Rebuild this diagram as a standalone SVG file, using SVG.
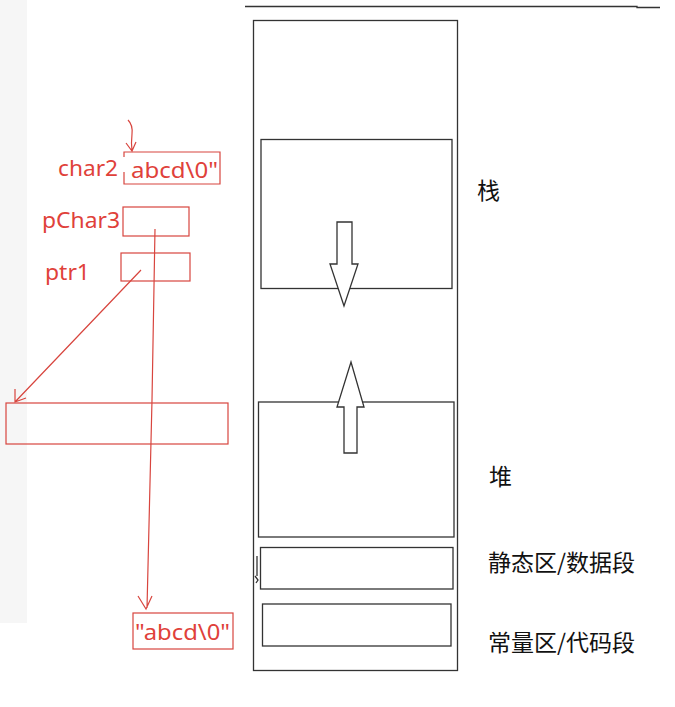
<svg xmlns="http://www.w3.org/2000/svg" width="675" height="707" viewBox="0 0 675 707">
<style>
.blk{fill:none;stroke:#333;stroke-width:1.3}
.red{fill:none;stroke:#d8453e;stroke-width:1.2}
.rt{font-family:"Noto Sans","Noto Sans CJK SC",sans-serif;font-size:22.5px;fill:#e0413a}
.bt{font-family:"Noto Sans CJK SC","Noto Sans",sans-serif;font-size:23px;fill:#111}
</style>
<rect width="675" height="707" fill="#fff"/>
<rect x="0" y="0" width="27" height="623" fill="#f6f6f6"/>
<g id="memory">
<path class="blk" d="M245 6.5H637V7.5H660"/>
<rect class="blk" x="253.5" y="20.5" width="204" height="650"/>
</g>
<g id="stack">
<rect class="blk" x="261" y="139.5" width="191" height="149"/>
<path class="blk" style="fill:#fff" d="M337 222H352V264H358L344 306L330 264H337Z"/>
<text class="bt" x="477" y="199">栈</text>
</g>
<g id="heap">
<rect class="blk" x="258.5" y="402" width="195.5" height="135"/>
<path class="blk" style="fill:#fff" d="M344 453V407H337L351 362L364 407H357V453Z"/>
<text class="bt" x="489" y="485">堆</text>
</g>
<g id="static">
<rect class="blk" x="260.5" y="547.5" width="192.5" height="41.5"/>
<path class="blk" d="M257 556V576M255 576L258 580L256 583" stroke-width="1"/>
<text class="bt" x="488" y="571">静态区/数据段</text>
</g>
<g id="const">
<rect class="blk" x="262.5" y="604" width="188.5" height="42"/>
<text class="bt" x="488" y="651">常量区/代码段</text>
</g>
<g id="char2">
<text class="rt" x="58" y="176" textLength="60" lengthAdjust="spacingAndGlyphs">char2</text>
<path class="red" d="M124 157V152H220V184H124V172"/>
<text class="rt" x="131" y="178" textLength="87" lengthAdjust="spacingAndGlyphs">abcd\0"</text>
</g>
<g id="pChar3">
<text class="rt" x="42" y="228" textLength="78" lengthAdjust="spacingAndGlyphs">pChar3</text>
<rect class="red" x="123" y="207" width="66" height="29"/>
</g>
<g id="ptr1">
<text class="rt" x="45" y="280" textLength="45" lengthAdjust="spacingAndGlyphs">ptr1</text>
<rect class="red" x="121" y="253" width="69" height="28"/>
</g>
<g id="heapobj">
<rect class="red" x="6" y="403" width="222" height="41"/>
</g>
<g id="literal">
<rect class="red" x="133" y="613" width="100" height="36"/>
<text class="rt" x="135" y="640" textLength="95" lengthAdjust="spacingAndGlyphs">"abcd\0"</text>
</g>
<g id="connectors">
<path class="red" d="M128 120Q133 125 132 134Q131 143 132 151M126 143L132 151L136 142"/>
<path class="red" d="M155 229L152 400L147 608M138 596L146 609L152 596"/>
<path class="red" d="M141 270L15 402M15 389V402L26 398" stroke-width="1"/>
</g>
</svg>
